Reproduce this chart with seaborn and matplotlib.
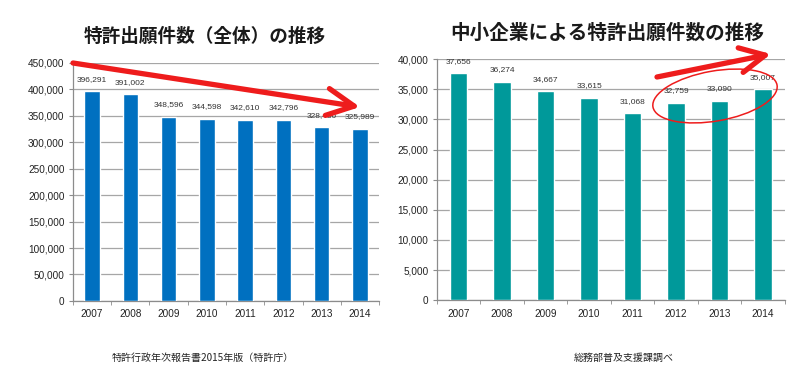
import matplotlib
matplotlib.use("Agg")
import matplotlib.pyplot as plt
from matplotlib.patches import Ellipse, FancyArrowPatch
from matplotlib.ticker import FuncFormatter, FixedLocator
import seaborn as sns
import pandas as pd

years = ["2007", "2008", "2009", "2010", "2011", "2012", "2013", "2014"]
total_apps = [396291, 391002, 348596, 344598, 342610, 342796, 328436, 325989]
sme_apps = [37656, 36274, 34667, 33615, 31068, 32759, 33090, 35007]

title_left = "特許出願件数（全体）の推移"
title_right = "中小企業による特許出願件数の推移"
source_left = "特許行政年次報告書2015年版（特許庁）"
source_right = "総務部普及支援課調べ"

sns.set_style("white")
plt.rcParams["font.family"] = ["Liberation Sans", "Noto Sans CJK JP", "DejaVu Sans"]
cjk = ["Noto Sans CJK JP", "DejaVu Sans"]

fig = plt.figure(figsize=(8, 3.79), dpi=100)
ax1 = fig.add_axes([0.091, 0.206, 0.383, 0.628])
ax2 = fig.add_axes([0.546, 0.208, 0.435, 0.636])

df1 = pd.DataFrame({"year": years, "value": total_apps})
df2 = pd.DataFrame({"year": years, "value": sme_apps})


def style_axis(ax, df, color, ymax, step):
    sns.barplot(data=df, x="year", y="value", color=color, width=0.4,
                saturation=1, ax=ax, zorder=3)
    ax.set_ylim(0, ymax)
    ax.set_xlim(-0.5, len(df) - 0.5)
    ax.set_yticks(range(0, ymax + 1, step))
    ax.yaxis.set_major_formatter(FuncFormatter(lambda v, p: f"{int(v):,}"))
    ax.grid(axis="y", color="#a6a6a6", linewidth=0.9, zorder=0)
    ax.set_xlabel("")
    ax.set_ylabel("")
    for s in ["top", "right"]:
        ax.spines[s].set_visible(False)
    for s in ["left", "bottom"]:
        ax.spines[s].set_color("#8c8c8c")
        ax.spines[s].set_linewidth(0.9)
    ax.tick_params(axis="y", length=3, color="#8c8c8c", labelsize=7.2,
                   labelcolor="#222222", pad=3, left=True)
    ax.tick_params(axis="x", which="major", length=0, labelsize=7.2,
                   labelcolor="#222222", pad=6)
    ax.xaxis.set_minor_locator(FixedLocator([i - 0.5 for i in range(len(df) + 1)]))
    ax.tick_params(axis="x", which="minor", length=3, color="#8c8c8c", bottom=True)
    for i, v in enumerate(df["value"]):
        ax.annotate(f"{v:,}", (i, v), xytext=(0, 6), textcoords="offset points",
                    ha="center", va="bottom", fontsize=6, color="#333333")


style_axis(ax1, df1, "#0070c0", 450000, 50000)
style_axis(ax2, df2, "#00999a", 40000, 5000)

fig.text(0.256, 0.905, title_left, ha="center", va="center", family=cjk,
         fontsize=13.4, fontweight="bold", color="#1a1a1a")
fig.text(0.759, 0.912, title_right, ha="center", va="center", family=cjk,
         fontsize=14.1, fontweight="bold", color="#1a1a1a")
fig.text(0.253, 0.055, source_left, ha="center", va="center", family=cjk,
         fontsize=7.2, color="#222222")
fig.text(0.78, 0.055, source_right, ha="center", va="center", family=cjk,
         fontsize=7.2, color="#222222")

# overlay in pixel units for the hand-drawn red marks
ov = fig.add_axes([0, 0, 1, 1], zorder=10)
ov.set_xlim(0, 800)
ov.set_ylim(379, 0)
ov.axis("off")
ov.patch.set_alpha(0)

red = "#ee1c1c"
ov.add_patch(FancyArrowPatch((73, 63), (360, 107),
                             arrowstyle="->,head_length=1.3,head_width=0.65",
                             mutation_scale=15, color=red, linewidth=3.8,
                             shrinkA=0, shrinkB=0))
ov.add_patch(FancyArrowPatch((657, 77), (771, 54),
                             arrowstyle="->,head_length=1.2,head_width=0.6",
                             mutation_scale=15, color=red, linewidth=3.8,
                             shrinkA=0, shrinkB=0))
ov.add_patch(Ellipse((715, 96), 126, 50, angle=-10, fill=False,
                     edgecolor=red, linewidth=1.1))

fig.savefig("out.png", dpi=100)
